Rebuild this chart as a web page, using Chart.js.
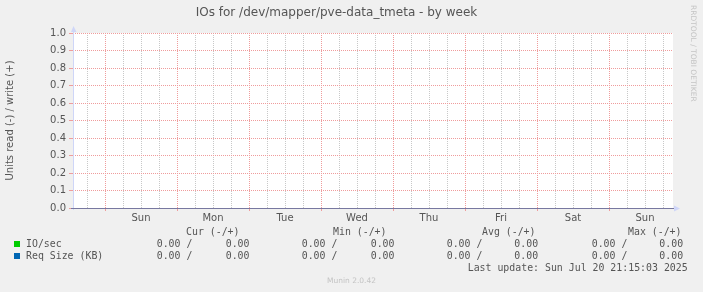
<!DOCTYPE html>
<html><head><meta charset="utf-8">
<script src="https://cdn.jsdelivr.net/npm/chart.js@4/dist/chart.umd.min.js"></script>
<style>
html,body{margin:0;padding:0;background:#f0f0f0;}
#wrap{position:relative;width:703px;height:292px;overflow:hidden;background:#f0f0f0;}
#c{position:absolute;left:0;top:0;}
.m{position:absolute;white-space:pre;font-family:"DejaVu Sans Mono",monospace;font-size:9.9px;line-height:12px;color:#555;}
.sq{position:absolute;width:6px;height:6px;}
#rrd{position:absolute;left:689px;top:5px;writing-mode:vertical-rl;font-family:"DejaVu Sans",sans-serif;font-size:7.5px;color:#c4c4c4;white-space:nowrap;}
#munin{position:absolute;left:0;width:703px;top:276px;text-align:center;font-family:"DejaVu Sans",sans-serif;font-size:7.5px;line-height:10px;color:#c4c4c4;}
</style></head>
<body><div id="wrap"><canvas id="c" width="703" height="292"></canvas></div>
<script>
// ---- data ----
const title = 'IOs for /dev/mapper/pve-data_tmeta - by week';
const yAxisTitle = 'Units read (-) / write (+)';
const dayLabels = ['Sun','Mon','Tue','Wed','Thu','Fri','Sat','Sun'];
const firstMidnightHour = 10.67;           // hours from graph start to first midnight
const sampleHours = [0, 25, 50, 75, 100, 125, 150, 175, 200];
const ioRead    = [0, 0, 0, 0, 0, 0, 0, 0, 0];
const ioWrite   = [0, 0, 0, 0, 0, 0, 0, 0, 0];
const sizeRead  = [0, 0, 0, 0, 0, 0, 0, 0, 0];
const sizeWrite = [0, 0, 0, 0, 0, 0, 0, 0, 0];
const yTicks = [0, 0.1, 0.2, 0.3, 0.4, 0.5, 0.6, 0.7, 0.8, 0.9, 1.0];
const seriesNames = ['IO/sec', 'Req Size (KB)'];
const seriesColors = ['#00cc00', '#0066b3'];
const curRead = [0, 0], curWrite = [0, 0];
const minRead = [0, 0], minWrite = [0, 0];
const avgRead = [0, 0], avgWrite = [0, 0];
const maxRead = [0, 0], maxWrite = [0, 0];
const lastUpdate = 'Sun Jul 20 21:15:03 2025';
const footer = 'Munin 2.0.42';
const watermark = 'RRDTOOL / TOBI OETIKER';

// ---- legend (text) ----
const wrap = document.getElementById('wrap');
function txt(s, x, cy, cls) {
  const d = document.createElement('div');
  d.className = cls || 'm'; d.textContent = s;
  d.style.left = x + 'px'; d.style.top = (cy - 6) + 'px';
  wrap.appendChild(d); return d;
}
const f = v => v.toFixed(2);
txt('Cur (-/+)', 186, 232); txt('Min (-/+)', 333, 232); txt('Avg (-/+)', 482, 232); txt('Max (-/+)', 628, 232);
const cols = [[curRead, curWrite, 156.7, 225.7], [minRead, minWrite, 301.7, 370.7],
              [avgRead, avgWrite, 446.7, 514.3], [maxRead, maxWrite, 591.7, 659.3]];
seriesNames.forEach((name, i) => {
  const cy = 244 + i * 12;
  const sq = document.createElement('div'); sq.className = 'sq';
  sq.style.left = '14px'; sq.style.top = (cy - 3) + 'px'; sq.style.background = seriesColors[i];
  wrap.appendChild(sq);
  txt(name, 26, cy);
  cols.forEach(c => { txt(f(c[0][i]) + ' /', c[2], cy); txt(f(c[1][i]), c[3], cy); });
});
txt('Last update: ' + lastUpdate, 467.7, 268);
const rr = document.createElement('div'); rr.id = 'rrd'; rr.textContent = watermark; wrap.appendChild(rr);
const mu = document.createElement('div'); mu.id = 'munin'; mu.textContent = footer; wrap.appendChild(mu);

// ---- chart ----
const RED = '#ef9c9c', GRAY = '#c8c8c8', AXIS = '#cfd6f8';
const isMid = v => Math.abs((v - firstMidnightHour) / 24 - Math.round((v - firstMidnightHour) / 24)) < 0.01;
const pts = arr => sampleHours.map((h, i) => ({x: h, y: arr[i]}));

const deco = {
  id: 'deco',
  beforeDraw(chart) {
    const {ctx, chartArea: a} = chart;
    ctx.save(); ctx.fillStyle = '#f0f0f0'; ctx.fillRect(0, 0, chart.width, chart.height);
    ctx.fillStyle = '#ffffff'; ctx.fillRect(a.left, a.top, a.right - a.left, a.bottom - a.top);
    ctx.restore();
  },
  beforeDatasetsDraw(chart) { chart.ctx.save(); chart.ctx.translate(0, 0.5); },
  afterDatasetsDraw(chart) {
    const {ctx, chartArea: a} = chart;
    ctx.restore();
    ctx.save();
    ctx.strokeStyle = AXIS; ctx.lineWidth = 1;
    ctx.beginPath(); ctx.moveTo(a.left + 0.5, a.bottom + 2); ctx.lineTo(a.left + 0.5, a.top - 4); ctx.stroke();
    ctx.strokeStyle = '#7878a0';
    ctx.beginPath(); ctx.moveTo(a.left - 2, a.bottom + 0.5); ctx.lineTo(a.right + 2, a.bottom + 0.5); ctx.stroke();
    ctx.fillStyle = AXIS;
    ctx.beginPath(); ctx.moveTo(a.left - 2, a.top - 1); ctx.lineTo(a.left + 3.5, a.top - 1); ctx.lineTo(a.left + 0.5, a.top - 7); ctx.closePath(); ctx.fill();
    ctx.beginPath(); ctx.moveTo(a.right + 1, a.bottom - 2.5); ctx.lineTo(a.right + 1, a.bottom + 3.5); ctx.lineTo(a.right + 7, a.bottom + 0.5); ctx.closePath(); ctx.fill();
    ctx.restore();
  }
};

const ds = (label, arr, color) => ({label, data: pts(arr), borderColor: color, borderWidth: 1,
  pointRadius: 0, fill: false, clip: false, tension: 0});

new Chart(document.getElementById('c'), {
  type: 'line',
  data: { datasets: [
    ds(seriesNames[0] + ' read', ioRead, seriesColors[0]),
    ds(seriesNames[0] + ' write', ioWrite, seriesColors[0]),
    ds(seriesNames[1] + ' read', sizeRead, seriesColors[1]),
    ds(seriesNames[1] + ' write', sizeWrite, seriesColors[1])
  ]},
  options: {
    responsive: false, animation: false, devicePixelRatio: 1,
    layout: { padding: { left: 0, top: 0, right: 30, bottom: 64 } },
    plugins: {
      legend: { display: false }, tooltip: { enabled: false },
      title: { display: true, text: title, color: '#555', font: { family: 'DejaVu Sans', size: 12, weight: 'normal', lineHeight: 1.2 },
               padding: { top: 6, bottom: 12.6 } }
    },
    scales: {
      x: {
        type: 'linear', min: 0, max: 200,
        afterFit: s => { s.height = 20; },
        afterBuildTicks: s => {
          const t = []; for (let h = firstMidnightHour - 6; h <= 200; h += 6) t.push({value: h});
          s.ticks = t;
        },
        ticks: {
          autoSkip: false, maxRotation: 0, padding: 1, color: '#555',
          font: { family: 'DejaVu Sans', size: 10 },
          callback: v => {
            const d = (v - firstMidnightHour - 12) / 24, r = Math.round(d);
            return (Math.abs(d - r) < 0.01 && r >= 0 && r < dayLabels.length) ? dayLabels[r] : '';
          }
        },
        grid: {
          color: c => isMid(c.tick.value) ? RED : GRAY,
          tickColor: c => isMid(c.tick.value) ? RED : 'rgba(0,0,0,0)',
          tickLength: 3, lineWidth: 1
        },
        border: { display: false, dash: [1, 1] }
      },
      y: {
        min: 0, max: 1,
        afterFit: s => { s.width = 73; },
        afterBuildTicks: s => { s.ticks = yTicks.map(v => ({value: v})); },
        ticks: { padding: 3, color: '#555', font: { family: 'DejaVu Sans', size: 10 }, callback: v => v.toFixed(1) },
        grid: { color: RED, tickColor: RED, tickLength: 4, lineWidth: 1 },
        border: { display: false, dash: [1, 1] },
        title: { display: true, text: yAxisTitle, color: '#555', font: { family: 'DejaVu Sans', size: 10 }, padding: { top: 4, bottom: 0 } }
      }
    }
  },
  plugins: [deco]
});
</script></body></html>
